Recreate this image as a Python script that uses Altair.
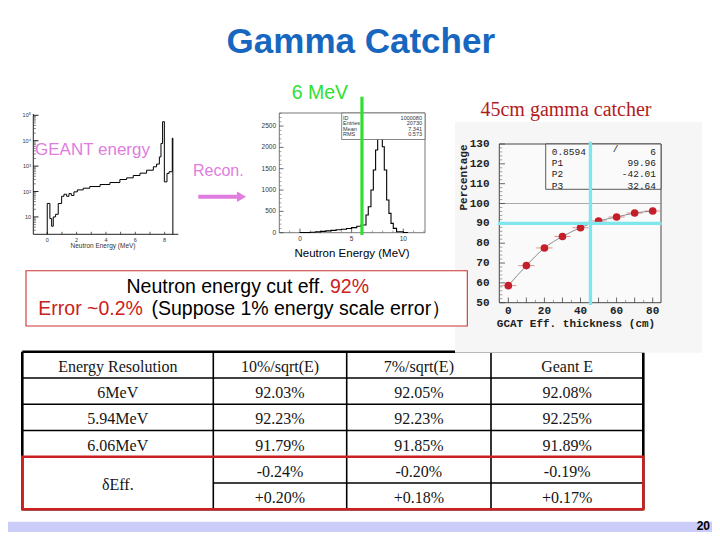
import altair as alt
import pandas as pd

# ---------------- values ----------------
# left inset: GEANT neutron energy spectrum (log counts)
geant_edges = [0.0, 0.18, 0.30, 0.41, 0.57, 0.75, 0.98, 1.14, 1.32, 1.48, 1.64, 1.82,
               2.05, 2.45, 2.90, 3.60, 4.27, 4.95, 5.41, 5.86, 6.32, 6.77, 7.23, 7.45,
               7.64, 7.75, 7.86, 7.98, 8.16, 8.30, 8.52, 8.56]
geant_counts = [34, 8.6, 4.3, 10, 12.7, 33.6, 65, 78, 65, 83, 70, 97,
                116, 135, 157, 189, 226, 297, 345, 427, 528, 690, 940, 1200,
                2300, 7800, 56000, 240, 515, 600, 12600]
geant_xtick_labels = [0, 2, 4, 6, 8]
geant_ytick_values = [10, 100, 1000, 10000, 100000]
geant_ytick_labels = ["10", "10²", "10³", "10⁴", "10⁵"]

# middle inset: reconstructed neutron energy
recon_edges = [0.0, 0.5, 1.0, 1.5, 2.0, 2.5, 3.0, 3.5, 4.0, 4.5, 5.0, 5.5, 5.9,
               6.39, 6.61, 6.87, 7.10, 7.32, 7.52, 7.75, 7.97, 8.16, 8.39, 8.61,
               8.81, 9.03, 9.35, 10.0, 10.4]
recon_counts = [3, 6, 12, 20, 30, 42, 55, 68, 82, 100, 118, 150,
                180, 415, 610, 1000, 1470, 1940, 2525, 2500, 2016, 1470,
                766, 453, 219, 102, 23, 5]
recon_xtick_labels = [0, 5, 10]
recon_ytick_labels = [0, 500, 1000, 1500, 2000, 2500]
recon_cut = [6.0]
recon_stat_names = ["ID", "Entries", "Mean", "RMS"]
recon_stat_values = ["1000080", "20730", "7.341", "0.573"]

# right inset: efficiency vs gamma-catcher thickness
gcat_thickness = [0, 10, 20, 30, 40, 50, 60, 70, 80]
gcat_eff = [58.6, 68.7, 77.6, 83.4, 87.8, 91.2, 93.2, 95.2, 96.2]
gcat_xerr = [4.5, 4.5, 4.5, 4.5, 4.5, 4.5, 4.5, 4.5, 4.5]
gcat_xtick_labels = [0, 20, 40, 60, 80]
gcat_ytick_labels = [50, 60, 70, 80, 90, 100, 110, 120, 130]
gcat_grid = [100]
gcat_chosen_thickness = [45.5]
gcat_chosen_eff = [90.0]
gcat_fit_names = ["0.8594", "P1", "P2", "P3"]
gcat_fit_values = ["6", "99.96", "-42.01", "32.64"]

# table
table_header = ["Energy Resolution", "10%/sqrt(E)", "7%/sqrt(E)", "Geant E"]
table_rows = ["6MeV", "5.94MeV", "6.06MeV"]
table_delta = "δEff."
col_10 = ["92.03%", "92.23%", "91.79%", "-0.24%", "+0.20%"]
col_7 = ["92.05%", "92.23%", "91.85%", "-0.20%", "+0.18%"]
col_geant = ["92.08%", "92.25%", "91.89%", "-0.19%", "+0.17%"]

# ---------------- layout helpers (slide pixel coordinates) ----------------
OFF = 8


def px(v):
    return v - OFF


one = pd.DataFrame({"k": [0]})
SANS = "Liberation Sans"
SERIF = "Liberation Serif"
MONO = "Liberation Mono"
VIOLET = "#E07DE0"
RED = "#CC2020"
GREEN = "#30DF30"
CYAN = "#7FE6EE"


def sc(domain, r0, r1, **kw):
    return alt.Scale(domain=domain, range=[px(r0), px(r1)], nice=False, zero=False, **kw)


def label(txt, x, y, size, color="black", font=SANS, weight="normal",
          align="left", baseline="alphabetic", angle=0):
    return alt.Chart(one).mark_text(
        text=txt, fontSize=size, font=font, fontWeight=weight, color=color,
        align=align, baseline=baseline, angle=angle
    ).encode(x=alt.value(px(x)), y=alt.value(px(y)))


def box(x0, x1, y0, y1, fill=None, stroke=None, sw=1.0):
    kw = {}
    if fill is not None:
        kw["fill"] = fill
    else:
        kw["fillOpacity"] = 0
    if stroke is not None:
        kw["stroke"] = stroke
        kw["strokeWidth"] = sw
    return alt.Chart(one).mark_rect(**kw).encode(
        x=alt.value(px(x0)), x2=alt.value(px(x1)),
        y=alt.value(px(y0)), y2=alt.value(px(y1)))


def step_frame(edges, counts, floor):
    xs = [edges[0]] + list(edges[:-1]) + [edges[-1]]
    ys = [floor] + list(counts) + [floor]
    return pd.DataFrame({"x": xs, "y": ys, "o": list(range(len(xs)))})


layers = []

# ---------------- footer band & title ----------------
layers.append(box(0, 720, 521.7, 540, fill="#CCCCF8"))
layers.append(label("20", 710, 530, 12, weight="bold",
                    font="Liberation Sans Narrow, Liberation Sans", align="right"))
layers.append(label("Gamma Catcher", 360.8, 53.3, 35, color="#1767C0", weight="bold",
                    align="center"))

# ---------------- table ----------------
T_EDGES = [22.3, 213.3, 346.7, 491.0, 643.3]
T_CENT = [(T_EDGES[i] + T_EDGES[i + 1]) / 2 for i in range(4)]


def tsc():
    return alt.Scale(domain=[0, 6], range=[px(351.7), px(509.3)], nice=False, zero=False)


lines = []
for r in [1, 2, 3, 4]:
    lines.append((T_EDGES[0], T_EDGES[-1], r, r, 1.6))
lines.append((T_EDGES[1], T_EDGES[-1], 5, 5, 1.6))
for xe in T_EDGES[1:-1]:
    lines.append((xe, xe, 0, 6, 1.6))
lines += [(T_EDGES[0], T_EDGES[-1], 0, 0, 2.6), (T_EDGES[0], T_EDGES[-1], 6, 6, 2.6),
          (T_EDGES[0], T_EDGES[0], 0, 6, 2.6), (T_EDGES[-1], T_EDGES[-1], 0, 6, 2.6)]
tl = pd.DataFrame(lines, columns=["x", "x2", "r", "r2", "w"])
tl["x"] = tl["x"] - OFF
tl["x2"] = tl["x2"] - OFF
layers.append(alt.Chart(tl).mark_rule(color="black").encode(
    x=alt.X("x:Q", scale=None, axis=None), x2="x2:Q",
    y=alt.Y("r:Q", scale=tsc(), axis=None), y2="r2:Q",
    strokeWidth=alt.StrokeWidth("w:Q", scale=None)))

cols = [
    [table_header[0]] + table_rows + [table_delta],
    [table_header[1]] + col_10,
    [table_header[2]] + col_7,
    [table_header[3]] + col_geant,
]
for ci, texts in enumerate(cols):
    if ci == 0:
        rows = [0.5, 1.5, 2.5, 3.5, 5.0]
    else:
        rows = [0.5, 1.5, 2.5, 3.5, 4.5, 5.5]
    df = pd.DataFrame({"t": texts, "r": rows})
    layers.append(alt.Chart(df).mark_text(
        font=SERIF, fontSize=16, color="#151515", align="center", baseline="middle", dy=2
    ).encode(x=alt.value(px(T_CENT[ci])), y=alt.Y("r:Q", scale=tsc(), axis=None), text="t:N"))

# ---------------- right inset background (covers table top on the right) ----------------
layers.append(box(455, 702, 122, 352.7, fill="#F6F6F6"))

# red box round δEff rows
dfr = pd.DataFrame({"r": [4], "r2": [6]})
layers.append(alt.Chart(dfr).mark_rect(fillOpacity=0, stroke=RED, strokeWidth=2.6).encode(
    x=alt.value(px(T_EDGES[0])), x2=alt.value(px(T_EDGES[-1])),
    y=alt.Y("r:Q", scale=tsc(), axis=None), y2="r2:Q"))

# ---------------- text box ----------------
layers.append(box(26, 467.3, 270.7, 326, fill="white", stroke="#CC3333", sw=1.1))
layers.append(label("Neutron energy cut eff.", 324.5, 293.3, 19.5, align="right"))
layers.append(label("92%", 330, 293.3, 19.5, color=RED))
layers.append(label("Error ~0.2%", 38.3, 315, 19.5, color=RED))
layers.append(label("(Suppose 1% energy scale error）", 151.5, 315, 19.5))

# ---------------- left inset: GEANT ----------------
GX = ([-0.95, 8.93], 33.3, 178.3)
GY = ([2.07, 100000], 234.3, 115.3)


def gx(f):
    return alt.X(f + ":Q", scale=sc(*GX), axis=None)


def gy(f):
    return alt.Y(f + ":Q", scale=sc(*GY, type="log"), axis=None)


layers.append(alt.Chart(one).mark_rule(color="#222", strokeWidth=1).encode(
    x=alt.value(px(33.3)), y=alt.value(px(234.3)), y2=alt.value(px(114))))
layers.append(alt.Chart(one).mark_rule(color="#222", strokeWidth=1).encode(
    x=alt.value(px(33.3)), x2=alt.value(px(178.3)), y=alt.value(px(234.3))))
gmaj = pd.DataFrame({"v": geant_ytick_values, "t": geant_ytick_labels})
gmin = pd.DataFrame({"v": [m * 10 ** k for k in range(0, 5) for m in range(2, 10)
                           if 2.07 <= m * 10 ** k <= 100000]})
layers.append(alt.Chart(gmaj).mark_rule(color="#222").encode(
    y=gy("v"), x=alt.value(px(33.3)), x2=alt.value(px(38.5))))
layers.append(alt.Chart(gmin).mark_rule(color="#444", strokeWidth=0.7).encode(
    y=gy("v"), x=alt.value(px(33.3)), x2=alt.value(px(35.8))))
layers.append(alt.Chart(gmaj).mark_text(fontSize=5.5, font=SANS, color="#333", align="right",
                                        baseline="middle").encode(
    y=gy("v"), x=alt.value(px(31)), text="t:N"))
gxt = pd.DataFrame({"v": geant_xtick_labels})
gxm = pd.DataFrame({"v": [0, 1, 2, 3, 4, 5, 6, 7, 8]})
layers.append(alt.Chart(gxm).mark_rule(color="#333", strokeWidth=0.8).encode(
    x=gx("v"), y=alt.value(px(234.3)), y2=alt.value(px(231.8))))
layers.append(alt.Chart(gxt).mark_text(fontSize=5.5, font=SANS, color="#333", align="center",
                                       baseline="middle").encode(
    x=gx("v"), y=alt.value(px(239.5)), text="v:N"))
layers.append(label("Neutron  Energy  (MeV)", 103, 247.5, 6.5, color="#333", align="center"))
layers.append(alt.Chart(step_frame(geant_edges, geant_counts, 2.07)).mark_line(
    interpolate="step-after", color="black", strokeWidth=1).encode(
    x=gx("x"), y=gy("y"), order="o:Q"))
layers.append(label("GEANT energy", 35, 155, 17, color=VIOLET))

# Recon. arrow
layers.append(label("Recon.", 193, 176, 16, color=VIOLET))
layers.append(alt.Chart(one).mark_rule(color=VIOLET, strokeWidth=4).encode(
    x=alt.value(px(198.3)), x2=alt.value(px(238)), y=alt.value(px(196.7))))
layers.append(alt.Chart(one).mark_point(shape="triangle-right", filled=True, size=110,
                                        color=VIOLET, opacity=1).encode(
    x=alt.value(px(241.5)), y=alt.value(px(196.7))))

# ---------------- middle inset: reconstructed energy ----------------
RX = ([-2, 12.1], 279.3, 425)
RY = ([0, 2806], 232.7, 113)


def rx(f):
    return alt.X(f + ":Q", scale=sc(*RX), axis=None)


def ry(f):
    return alt.Y(f + ":Q", scale=sc(*RY), axis=None)


layers.append(box(279.3, 425, 113, 232.7, fill="white", stroke="#555", sw=0.8))
ryt = pd.DataFrame({"v": recon_ytick_labels})
rym = pd.DataFrame({"v": [v for v in range(0, 2801, 100) if v % 500]})
layers.append(alt.Chart(ryt).mark_rule(color="#444", strokeWidth=0.8).encode(
    y=ry("v"), x=alt.value(px(279.3)), x2=alt.value(px(283.5))))
layers.append(alt.Chart(rym).mark_rule(color="#666", strokeWidth=0.6).encode(
    y=ry("v"), x=alt.value(px(279.3)), x2=alt.value(px(281.5))))
layers.append(alt.Chart(ryt).mark_text(fontSize=6.5, font=SANS, color="#333", align="right",
                                       baseline="middle").encode(
    y=ry("v"), x=alt.value(px(276)), text="v:N"))
rxt = pd.DataFrame({"v": recon_xtick_labels})
rxm = pd.DataFrame({"v": [v for v in range(-1, 13) if v % 5]})
layers.append(alt.Chart(rxt).mark_rule(color="#444", strokeWidth=0.8).encode(
    x=rx("v"), y=alt.value(px(232.7)), y2=alt.value(px(228.5))))
layers.append(alt.Chart(rxm).mark_rule(color="#666", strokeWidth=0.6).encode(
    x=rx("v"), y=alt.value(px(232.7)), y2=alt.value(px(230.5))))
layers.append(alt.Chart(rxt).mark_text(fontSize=6.5, font=SANS, color="#333", align="center",
                                       baseline="middle").encode(
    x=rx("v"), y=alt.value(px(239)), text="v:N"))
layers.append(alt.Chart(step_frame(recon_edges, recon_counts, 0)).mark_line(
    interpolate="step-after", color="black", strokeWidth=1.1).encode(
    x=rx("x"), y=ry("y"), order="o:Q"))
layers.append(box(341.7, 425, 113, 139.5, fill="white", stroke="#555", sw=0.7))
sdf = pd.DataFrame({"n": recon_stat_names, "v": recon_stat_values,
                    "yy": [px(117.5), px(123), px(128.5), px(134)]})
layers.append(alt.Chart(sdf).mark_text(fontSize=5.5, font=SANS, color="#333", align="left").encode(
    x=alt.value(px(343)), y=alt.Y("yy:Q", scale=None, axis=None), text="n:N"))
layers.append(alt.Chart(sdf).mark_text(fontSize=5.5, font=SANS, color="#333", align="right").encode(
    x=alt.value(px(422)), y=alt.Y("yy:Q", scale=None, axis=None), text="v:N"))
layers.append(label("Neutron Energy   (MeV)", 352, 256.6, 11.5, align="center"))
layers.append(alt.Chart(pd.DataFrame({"v": recon_cut})).mark_rule(
    color=GREEN, strokeWidth=3.2).encode(
    x=rx("v"), y=alt.value(px(96.7)), y2=alt.value(px(235))))
layers.append(label("6 MeV", 291.7, 99.3, 19.5, color=GREEN))

# ---------------- right inset: efficiency vs thickness ----------------
CX = ([-5, 84.6], 499.3, 661)
CY = ([50, 130], 302.7, 144)


def cx(f):
    return alt.X(f + ":Q", scale=sc(*CX), axis=None)


def cy(f):
    return alt.Y(f + ":Q", scale=sc(*CY), axis=None)


layers.append(label("45cm gamma catcher", 566, 116, 20, color="#B01C1C", font=SERIF,
                    align="center"))
layers.append(box(499.3, 661, 144, 302.7, fill="#FAFAFA", stroke="#333", sw=0.9))
layers.append(alt.Chart(pd.DataFrame({"v": gcat_grid})).mark_rule(
    color="#888", strokeWidth=0.7).encode(
    y=cy("v"), x=alt.value(px(499.3)), x2=alt.value(px(661))))
cyt = pd.DataFrame({"v": gcat_ytick_labels})
cym = pd.DataFrame({"v": [v for v in range(52, 130, 2) if v % 10]})
layers.append(alt.Chart(cyt).mark_rule(color="#444", strokeWidth=0.8).encode(
    y=cy("v"), x=alt.value(px(499.3)), x2=alt.value(px(505))))
layers.append(alt.Chart(cym).mark_rule(color="#666", strokeWidth=0.6).encode(
    y=cy("v"), x=alt.value(px(499.3)), x2=alt.value(px(502.3))))
cxt = pd.DataFrame({"v": gcat_xtick_labels})
cxmaj = pd.DataFrame({"v": list(range(0, 81, 10))})
cxm = pd.DataFrame({"v": list(range(5, 85, 10))})
layers.append(alt.Chart(cxmaj).mark_rule(color="#444", strokeWidth=0.8).encode(
    x=cx("v"), y=alt.value(px(302.7)), y2=alt.value(px(297.5))))
layers.append(alt.Chart(cxm).mark_rule(color="#666", strokeWidth=0.6).encode(
    x=cx("v"), y=alt.value(px(302.7)), y2=alt.value(px(299.7))))
layers.append(alt.Chart(cyt).mark_text(fontSize=11, font=MONO, fontWeight="bold", color="#222",
                                       align="right", baseline="middle").encode(
    y=cy("v"), x=alt.value(px(489.5)), text="v:N"))
layers.append(alt.Chart(cxt).mark_text(fontSize=11, font=MONO, fontWeight="bold", color="#222",
                                       align="center", baseline="middle").encode(
    x=cx("v"), y=alt.value(px(310.5)), text="v:N"))
layers.append(label("GCAT Eff.  thickness (cm)", 576, 327, 11, color="#222", font=MONO,
                    weight="bold", align="center"))
layers.append(label("Percentage", 464, 177.5, 11, color="#222", font=MONO, weight="bold",
                    align="center", baseline="middle", angle=270))
# fit box
layers.append(box(545.7, 661, 144, 189.3, fill="#FAFAFA", stroke="#333", sw=0.8))
fdf = pd.DataFrame({"n": gcat_fit_names, "v": gcat_fit_values,
                    "yy": [px(152), px(163), px(174), px(185.5)]})
layers.append(alt.Chart(fdf).mark_text(fontSize=9.5, font=MONO, color="#222", align="left").encode(
    x=alt.value(px(551.7)), y=alt.Y("yy:Q", scale=None, axis=None), text="n:N"))
layers.append(alt.Chart(fdf).mark_text(fontSize=9.5, font=MONO, color="#222", align="right").encode(
    x=alt.value(px(656)), y=alt.Y("yy:Q", scale=None, axis=None), text="v:N"))
layers.append(label("/", 615.5, 152, 9.5, color="#222", font=MONO, align="center"))

gdf = pd.DataFrame({"t": gcat_thickness, "e": gcat_eff, "err": gcat_xerr})
gdf["lo"] = gdf["t"] - gdf["err"]
gdf["hi"] = gdf["t"] + gdf["err"]
layers.append(alt.Chart(gdf).mark_rule(color="#E59090", strokeWidth=1).encode(
    x=cx("lo"), x2="hi:Q", y=cy("e")))
layers.append(alt.Chart(gdf).mark_line(color="#707070", strokeWidth=0.8,
                                       interpolate="monotone").encode(x=cx("t"), y=cy("e")))
layers.append(alt.Chart(gdf).mark_circle(color="#C41E2A", size=58, opacity=1).encode(
    x=cx("t"), y=cy("e")))
layers.append(alt.Chart(pd.DataFrame({"v": gcat_chosen_thickness})).mark_rule(
    color=CYAN, strokeWidth=3.3).encode(
    x=cx("v"), y=alt.value(px(141.7)), y2=alt.value(px(305))))
layers.append(alt.Chart(pd.DataFrame({"v": gcat_chosen_eff})).mark_rule(
    color=CYAN, strokeWidth=3.3).encode(
    y=cy("v"), x=alt.value(px(498)), x2=alt.value(px(661.7))))

chart = alt.layer(*layers).resolve_scale(
    x="independent", y="independent"
).properties(
    width=704, height=524, padding=0, background="white",
    autosize=alt.AutoSizeParams(type="none")
).configure_view(stroke="transparent")

chart.save("out.html", embed_options={"renderer": "svg", "actions": False})
